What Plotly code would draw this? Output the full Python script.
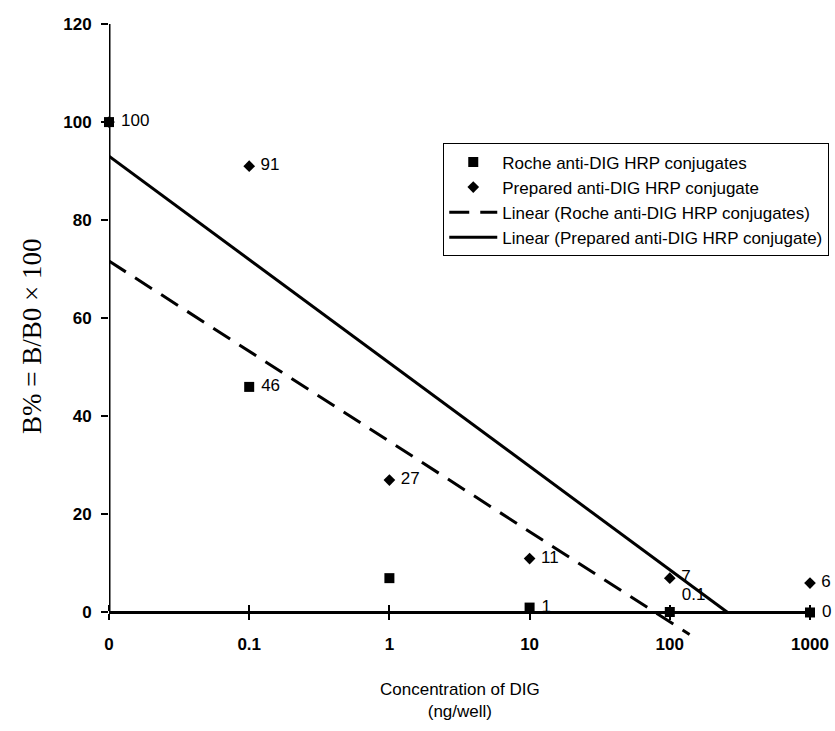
import numpy as np
import plotly.graph_objects as go

# ---- data ----
categories = ["0", "0.1", "1", "10", "100", "1000"]
roche_values = [100, 46, 7, 1, 0.1, 0]
roche_labels = ["100", "46", "", "1", "0.1", "0"]
prepared_values = [100, 91, 27, 11, 7, 6]
prepared_labels = ["", "91", "27", "11", "7", "6"]
y_ticks = [0, 20, 40, 60, 80, 100, 120]
# value at which each linear trend line stops (Roche, Prepared)
trend_stop_values = [-4.5, 0]

idx = np.arange(len(categories))

def trend(values, stop_value):
    slope, intercept = np.polyfit(idx, values, 1)
    x_end = (stop_value - intercept) / slope
    xs = np.array([0, x_end])
    return xs, intercept + slope * xs

rx, ry = trend(roche_values, trend_stop_values[0])
px_, py_ = trend(prepared_values, trend_stop_values[1])

NB = "\u00a0"
label_font = dict(family="Arial, Liberation Sans", size=17, color="black")

fig = go.Figure()
fig.add_trace(go.Scatter(
    x=idx, y=roche_values, mode="markers+text", name="Roche anti-DIG HRP conjugates",
    marker=dict(symbol="square", size=10, color="black"),
    text=[NB + t if t else "" for t in roche_labels],
    textposition=["middle right", "middle right", "middle right", "middle right", "top right", "middle right"],
    textfont=label_font, cliponaxis=False, legendgroup="a"))
fig.add_trace(go.Scatter(
    x=idx, y=prepared_values, mode="markers+text", name="Prepared anti-DIG HRP conjugate",
    marker=dict(symbol="diamond", size=9, color="black"),
    text=[NB + t if t else "" for t in prepared_labels], textposition="middle right",
    textfont=label_font, cliponaxis=False, legendgroup="b"))
fig.add_trace(go.Scatter(
    x=rx, y=ry, mode="lines", name="Linear (Roche anti-DIG HRP conjugates)",
    line=dict(color="black", width=3, dash="20px,11px"), legendgroup="c"))
fig.add_trace(go.Scatter(
    x=px_, y=py_, mode="lines", name="Linear (Prepared anti-DIG HRP conjugate)",
    line=dict(color="black", width=3), legendgroup="d"))

W, H = 835, 731
L, R, T, B = 108.5, 25, 23.6, 94.3
pw, ph = W - L - R, H - T - B
ymin, ymax = -5, 120
tick_font = dict(family="Arial, Liberation Sans", size=17, color="black", weight="bold")

fig.update_layout(
    width=W, height=H,
    margin=dict(l=L, r=R, t=T, b=B, pad=0, autoexpand=False),
    plot_bgcolor="white", paper_bgcolor="white",
    showlegend=True,
    legend=dict(x=(443 - L) / pw, y=1 - (143 - T) / ph, xanchor="left", yanchor="top",
                bordercolor="black", borderwidth=1, bgcolor="white",
                font=dict(family="Arial, Liberation Sans", size=17, color="black"),
                itemwidth=48, tracegroupgap=0),
    xaxis=dict(range=[0, 5], tickvals=list(idx), ticktext=categories,
               anchor="free", position=(0 - ymin) / (ymax - ymin), automargin=False,
               showline=True, linecolor="black", linewidth=3,
               ticks="outside", ticklen=6, tickwidth=2, tickcolor="black",
               minor=dict(ticks="inside", tickvals=list(idx), ticklen=6, tickwidth=2,
                          tickcolor="black", showgrid=False),
               ticklabelstandoff=9, tickfont=tick_font,
               showgrid=False, zeroline=False),
    yaxis=dict(range=[ymin, ymax], tickvals=y_ticks, automargin=False,
               showline=False, ticks="outside", ticklen=7, tickwidth=2, tickcolor="black",
               ticklabelstandoff=6, tickfont=tick_font,
               showgrid=False, zeroline=False),
)
# y axis line from 0 to 120
fig.add_shape(type="line", xref="x", yref="y", x0=0, x1=0, y0=0, y1=ymax,
              line=dict(color="black", width=3))

fig.add_annotation(xref="paper", yref="paper", x=0.5, y=1 - (700 - T) / ph,
                   xanchor="center", yanchor="middle",
                   text="Concentration of DIG<br>(ng/well)", showarrow=False,
                   font=dict(family="Arial, Liberation Sans", size=17, color="black"))
fig.add_annotation(xref="paper", yref="paper", x=(32 - L) / pw, y=1 - (336 - T) / ph,
                   xanchor="center", yanchor="middle",
                   text="B% = B/B0 × 100", textangle=-90, showarrow=False,
                   font=dict(family="Liberation Serif, Times New Roman", size=27, color="black"))

fig.write_html("out.html", config={"displayModeBar": False},
               post_script="document.body.style.margin='0';")
